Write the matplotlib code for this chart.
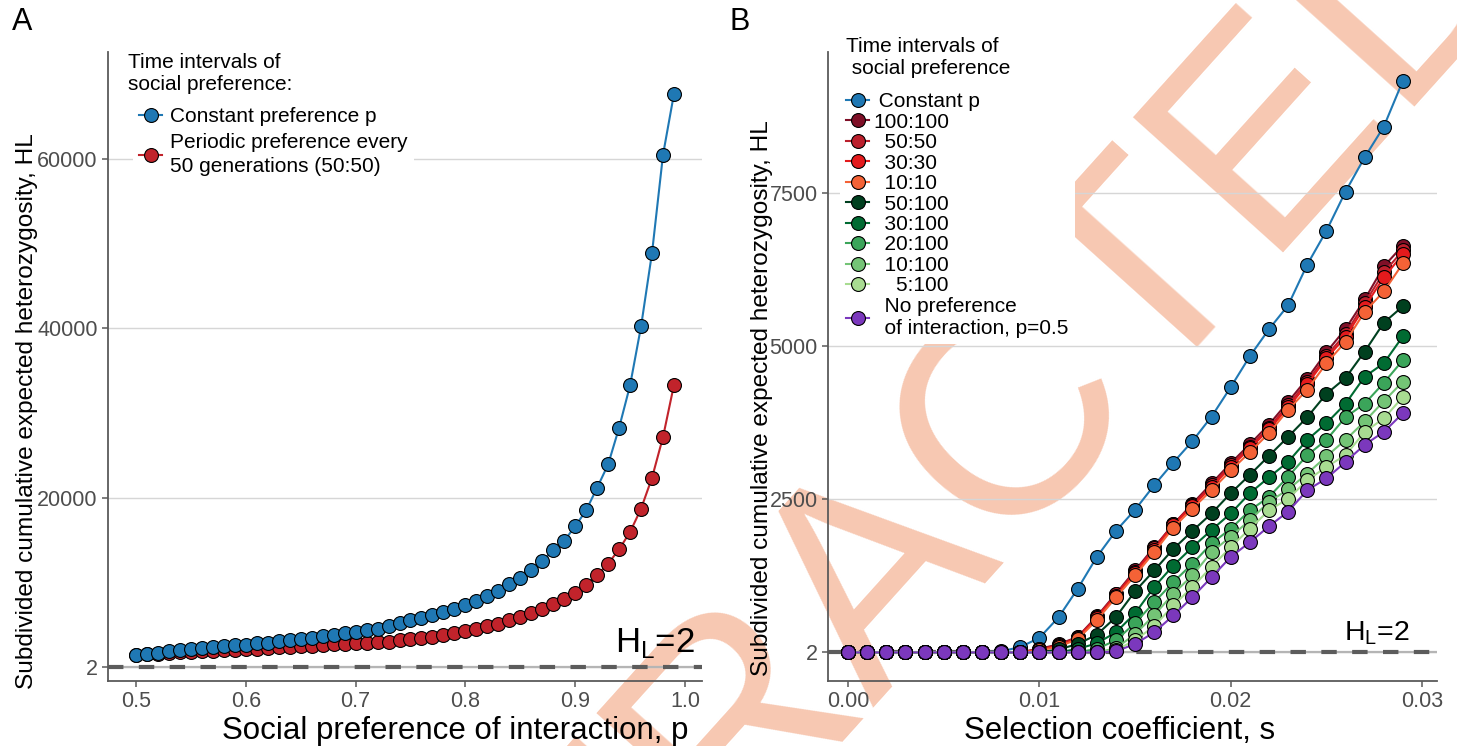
import matplotlib
matplotlib.use("Agg")
import matplotlib.pyplot as plt

plt.rcParams['font.family'] = ['Liberation Sans', 'DejaVu Sans']
plt.rcParams['mathtext.fontset'] = 'custom'
plt.rcParams['mathtext.rm'] = 'Liberation Sans'

# ------------- panel A data -------------
p_values = [0.50, 0.51, 0.52, 0.53, 0.54, 0.55, 0.56, 0.57, 0.58, 0.59,
            0.60, 0.61, 0.62, 0.63, 0.64, 0.65, 0.66, 0.67, 0.68, 0.69,
            0.70, 0.71, 0.72, 0.73, 0.74, 0.75, 0.76, 0.77, 0.78, 0.79,
            0.80, 0.81, 0.82, 0.83, 0.84, 0.85, 0.86, 0.87, 0.88, 0.89,
            0.90, 0.91, 0.92, 0.93, 0.94, 0.95, 0.96, 0.97, 0.98, 0.99]
hl_constant = [1380, 1530, 1690, 1850, 1970, 2090, 2200, 2320, 2440, 2560,
               2640, 2790, 2870, 3030, 3150, 3300, 3460, 3620, 3780, 3970,
               4170, 4330, 4520, 4800, 5160, 5510, 5820, 6170, 6530, 6880,
               7280, 7790, 8380, 9000, 9760, 10500, 11450, 12510, 13770, 14900,
               16600, 18490, 21160, 23900, 28240, 33240, 40200, 48880, 60450, 67650]
hl_periodic = [1450, 1520, 1590, 1650, 1720, 1790, 1850, 1920, 1990, 2050,
               2110, 2180, 2250, 2320, 2380, 2450, 2520, 2590, 2660, 2740,
               2810, 2890, 2950, 3000, 3150, 3270, 3420, 3580, 3780, 4010,
               4250, 4520, 4800, 5110, 5510, 5900, 6370, 6880, 7400, 8060,
               8770, 9710, 10820, 12190, 13890, 15930, 18680, 22340, 27140, 33310]

# ------------- panel B data -------------
s_values = [0.000, 0.001, 0.002, 0.003, 0.004, 0.005, 0.006, 0.007, 0.008, 0.009,
            0.010, 0.011, 0.012, 0.013, 0.014, 0.015, 0.016, 0.017, 0.018, 0.019,
            0.020, 0.021, 0.022, 0.023, 0.024, 0.025, 0.026, 0.027, 0.028, 0.029]
hl_const_p = [2, 2, 2, 2, 2, 2, 2, 2, 20, 90, 240, 575, 1040, 1560, 1985,
              2330, 2730, 3100, 3450, 3850, 4330, 4835, 5275, 5665, 6330, 6880, 7520, 8080, 8580, 9330]
hl_100_100 = [2, 2, 2, 2, 2, 2, 2, 2, 2, 8, 60, 135, 255, 590, 960,
              1340, 1720, 2090, 2430, 2760, 3090, 3400, 3720, 4090, 4470, 4900, 5280, 5760, 6300, 6640]
hl_50_50 = [2, 2, 2, 2, 2, 2, 2, 2, 2, 6, 50, 120, 250, 580, 950,
            1320, 1700, 2100, 2410, 2730, 3060, 3360, 3670, 4040, 4420, 4840, 5200, 5700, 6200, 6560]
hl_30_30 = [2, 2, 2, 2, 2, 2, 2, 2, 2, 5, 45, 110, 240, 560, 930,
            1300, 1680, 2080, 2390, 2700, 3030, 3330, 3640, 4000, 4380, 4800, 5150, 5640, 6120, 6500]
hl_10_10 = [2, 2, 2, 2, 2, 2, 2, 2, 2, 4, 35, 95, 220, 530, 900,
            1260, 1640, 2040, 2350, 2650, 2970, 3270, 3580, 3960, 4290, 4720, 5070, 5560, 5890, 6350]
hl_50_100 = [2, 2, 2, 2, 2, 2, 2, 2, 2, 2, 2, 50, 140, 290, 580,
             1000, 1340, 1690, 1985, 2270, 2600, 2900, 3210, 3520, 3840, 4220, 4480, 4910, 5380, 5650]
hl_30_100 = [2, 2, 2, 2, 2, 2, 2, 2, 2, 2, 2, 2, 60, 150, 330,
             640, 1070, 1420, 1720, 2000, 2270, 2600, 2860, 3110, 3470, 3740, 4060, 4500, 4720, 5160]
hl_20_100 = [2, 2, 2, 2, 2, 2, 2, 2, 2, 2, 2, 2, 2, 60, 200,
             480, 820, 1150, 1450, 1780, 2020, 2320, 2540, 2870, 3220, 3470, 3840, 4060, 4400, 4770]
hl_10_100 = [2, 2, 2, 2, 2, 2, 2, 2, 2, 2, 2, 2, 2, 2, 70,
             300, 610, 960, 1260, 1640, 1890, 2160, 2460, 2660, 2920, 3200, 3470, 3770, 4100, 4420]
hl_5_100 = [2, 2, 2, 2, 2, 2, 2, 2, 2, 2, 2, 2, 2, 2, 40,
            200, 430, 770, 1070, 1400, 1720, 2020, 2320, 2510, 2810, 3030, 3220, 3600, 3820, 4170]
hl_no_pref = [2, 2, 2, 2, 2, 2, 2, 2, 2, 2, 2, 2, 2, 2, 20,
              140, 330, 605, 905, 1230, 1560, 1800, 2060, 2300, 2650, 2840, 3110, 3390, 3600, 3905]

labels_B = [' Constant p', '100:100', '  50:50', '  30:30', '  10:10', '  50:100',
            '  30:100', '  20:100', '  10:100', '    5:100', '  No preference\n  of interaction, p=0.5']
series_B = [hl_const_p, hl_100_100, hl_50_50, hl_30_30, hl_10_10, hl_50_100,
            hl_30_100, hl_20_100, hl_10_100, hl_5_100, hl_no_pref]
colors_B = ['#1f78b4', '#7f0f27', '#bb1f2c', '#e41a1c', '#f46236', '#00401f',
            '#006b32', '#3ba55a', '#74c476', '#a8dc91', '#7b38bd']

W, H = 1457, 746


def rect(l, r, t, b):
    return [l / W, 1 - b / H, (r - l) / W, (b - t) / H]


def fx(px):
    return px / W


def fy(py):
    return 1 - py / H


fig = plt.figure(figsize=(W / 100, H / 100), dpi=100)
axA = fig.add_axes(rect(108, 702, 52, 681))
axB = fig.add_axes(rect(828, 1437, 52, 681))

# watermark behind everything
fig.text(fx(875), fy(565), 'RETRACTED', rotation=48, fontsize=212,
         color='#f7c8b2', ha='center', va='center', rotation_mode='anchor', zorder=-1)

for ax in (axA, axB):
    ax.set_facecolor('none')
    for side in ('top', 'right'):
        ax.spines[side].set_visible(False)
    for side in ('left', 'bottom'):
        ax.spines[side].set_color('#5a5a5a')
        ax.spines[side].set_linewidth(1.3)
    ax.tick_params(colors='#5a5a5a', labelcolor='#4d4d4d', labelsize=15.5, length=4, width=1.1)
    ax.grid(axis='y', color='#d6d6d6', lw=1.0)
    ax.set_axisbelow(True)
    ax.axhline(2, color='#b5b5b5', lw=1.6, zorder=1)
    ax.axhline(2, color='#5c5c5c', lw=3, dashes=(3.7, 3.7), zorder=1)

mk = dict(marker='o', ms=10, mec='black', mew=0.8, lw=1.5)
leg_style = dict(loc='upper left', bbox_transform=fig.transFigure, fontsize=15,
                 frameon=True, facecolor='white', edgecolor='none', framealpha=1,
                 fancybox=False, borderaxespad=0, borderpad=0.3, handlelength=1.1)

# ------------- panel A -------------
axA.plot(p_values, hl_constant, color='#1f78b4', mfc='#1f78b4', label='Constant preference p', zorder=3, **mk)
axA.plot(p_values, hl_periodic, color='#c1232b', mfc='#c1232b',
         label='Periodic preference every\n50 generations (50:50)', zorder=2, **mk)
axA.set_xlim(0.4745, 1.0155)
axA.set_ylim(-1650, 72570)
axA.set_xticks([0.5, 0.6, 0.7, 0.8, 0.9, 1.0])
axA.set_xticklabels(['0.5', '0.6', '0.7', '0.8', '0.9', '1.0'])
axA.set_yticks([2, 20000, 40000, 60000])
axA.set_yticklabels(['2', '20000', '40000', '60000'])
axA.set_xlabel('Social preference of interaction, p', fontsize=22.5)
axA.set_ylabel('Subdivided cumulative expected heterozygosity, HL', fontsize=17.6)
axA.xaxis.set_label_coords(0.584, -0.055)
axA.yaxis.set_label_coords(-0.118, 0.429)
axA.text(0.988, 0.046, r'H$_{\mathrm{L}}$=2', transform=axA.transAxes, ha='right', va='baseline', fontsize=25)
fig.text(fx(128), fy(74), 'Time intervals of\nsocial preference:', fontsize=15,
         ha='left', va='center', linespacing=1.2)
legA = axA.legend(bbox_to_anchor=(fx(133), fy(101)), handletextpad=0.4, labelspacing=0.3, **leg_style)
for t in legA.get_texts():
    t.set_linespacing(1.4)

# ------------- panel B -------------
for vals, lab, col in zip(series_B, labels_B, colors_B):
    axB.plot(s_values, vals, color=col, mfc=col, label=lab, **mk)
axB.set_xlim(-0.00105, 0.03078)
axB.set_ylim(-464, 9797)
axB.set_xticks([0.0, 0.01, 0.02, 0.03])
axB.set_xticklabels(['0.00', '0.01', '0.02', '0.03'])
axB.set_yticks([2, 2500, 5000, 7500])
axB.set_yticklabels(['2', '2500', '5000', '7500'])
axB.set_xlabel('Selection coefficient, s', fontsize=22.5)
axB.set_ylabel('Subdivided cumulative expected heterozygosity, HL', fontsize=17.6)
axB.xaxis.set_label_coords(0.479, -0.055)
axB.yaxis.set_label_coords(-0.090, 0.45)
axB.text(0.956, 0.065, r'H$_{\mathrm{L}}$=2', transform=axB.transAxes, ha='right', va='baseline', fontsize=20.5)
fig.text(fx(846), fy(57), 'Time intervals of\n social preference', fontsize=15,
         ha='left', va='center', linespacing=1.2)
legB = axB.legend(bbox_to_anchor=(fx(840), fy(86)), handletextpad=0.2, labelspacing=0.07, **leg_style)

fig.text(fx(22), fy(22), 'A', fontsize=22, ha='center', va='center')
fig.text(fx(740), fy(22), 'B', fontsize=22, ha='center', va='center')

fig.savefig('out.png', dpi=100)
